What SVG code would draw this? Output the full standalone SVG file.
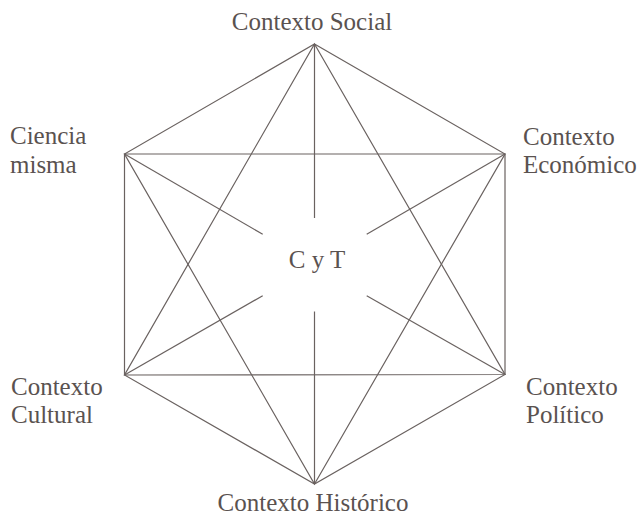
<svg xmlns="http://www.w3.org/2000/svg" width="639" height="517" viewBox="0 0 639 517">
<style>
text{font-family:"Liberation Serif","Times New Roman",serif;font-size:25px;fill:#5a5250}
.c line,.c polygon{stroke:#6a6260;stroke-width:1.2;fill:none}
</style>
<rect width="639" height="517" fill="#fff"/>
<g class="c" id="connectors">
<polygon points="314.5,44 505,154 505,374.5 314.5,484 124.5,375 124.5,154"/>
<polygon points="314.5,44 505,374.5 124.5,375"/>
<polygon points="314.5,484 505,154 124.5,154"/>
<line x1="314.5" y1="44" x2="314.5" y2="218"/>
<line x1="314.5" y1="484" x2="314.5" y2="311.5"/>
<line x1="124.5" y1="154" x2="262.7" y2="234.3"/>
<line x1="505" y1="154" x2="366.7" y2="234.3"/>
<line x1="124.5" y1="375" x2="262.7" y2="295.7"/>
<line x1="505" y1="374.5" x2="366.7" y2="295.7"/>
</g>
<g id="social"><text x="312" y="30" text-anchor="middle">Contexto Social</text></g>
<g id="ciencia"><text x="10" y="144.3">Ciencia</text><text x="10" y="173">misma</text></g>
<g id="economico"><text x="523" y="145">Contexto</text><text x="523" y="173">Económico</text></g>
<g id="cultural"><text x="11" y="395">Contexto</text><text x="11" y="423">Cultural</text></g>
<g id="politico"><text x="526" y="395">Contexto</text><text x="526" y="423">Político</text></g>
<g id="historico"><text x="313" y="511" text-anchor="middle">Contexto Histórico</text></g>
<g id="cyt"><text x="317" y="268.3" text-anchor="middle">C y T</text></g>
</svg>
